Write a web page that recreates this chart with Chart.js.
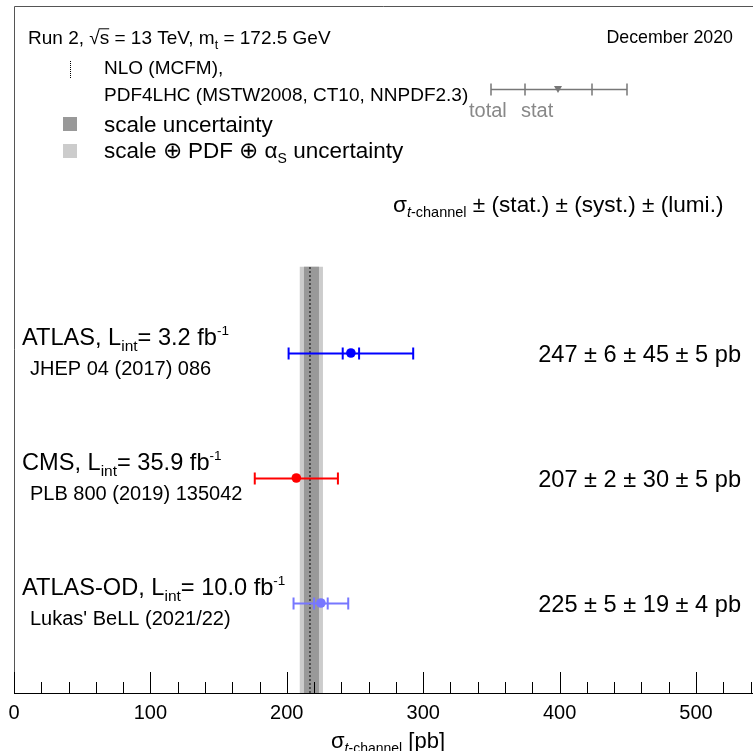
<!DOCTYPE html>
<html>
<head>
<meta charset="utf-8">
<script src="https://cdn.jsdelivr.net/npm/chart.js@4.4.0/dist/chart.umd.min.js"></script>
<style>
body { margin: 0; background: #fff; }
#wrap { position: relative; width: 753px; height: 751px; }
</style>
</head>
<body>
<div id="wrap"><canvas id="myChart"></canvas></div>
<script>
// measurements, top row first
const experiments = ["ATLAS", "CMS", "ATLAS-OD"];
const lumis = ["3.2", "35.9", "10.0"];
const references = ["JHEP 04 (2017) 086", "PLB 800 (2019) 135042", "Lukas' BeLL (2021/22)"];
const xsec = [247, 207, 225];
const statErr = [6, 2, 5];
const systErr = [45, 30, 19];
const lumiErr = [5, 5, 4];
const rowPos = [2.72, 1.72, 0.72];
const pointColors = ["#0000ff", "#ff0000", "#7777ff"];

// NLO prediction (MCFM)
const theoryValue = 217.0;
const scaleBand = [212.6, 223.6];
const totalBand = [209.5, 226.5];
const bandTop = 3.41;

const xTicks = [0, 100, 200, 300, 400, 500];
const xMax = 541.8;
const yMax = 5.496;

const FONT = '"Liberation Sans", Arial, Helvetica, sans-serif';
const MARKER = 4.8;

function totalErr(i) {
  return Math.sqrt(statErr[i] ** 2 + systErr[i] ** 2 + lumiErr[i] ** 2);
}

// draws a row of text pieces (for sub/superscripts)
function rich(ctx, x, y, parts, align) {
  var w = 0;
  parts.forEach(function (p) {
    ctx.font = (p.it ? "italic " : "") + p.s + "px " + FONT;
    w += ctx.measureText(p.t).width;
  });
  if (align == "right") x -= w;
  if (align == "center") x -= w / 2;
  ctx.textBaseline = "alphabetic";
  ctx.textAlign = "left";
  parts.forEach(function (p) {
    ctx.font = (p.it ? "italic " : "") + p.s + "px " + FONT;
    ctx.fillStyle = p.c || "#000";
    ctx.fillText(p.t, x, y + (p.dy || 0));
    var pw = ctx.measureText(p.t).width;
    if (p.over) {
      ctx.strokeStyle = p.c || "#000";
      ctx.lineWidth = 1;
      ctx.beginPath();
      ctx.moveTo(x - 1, y - p.s * 0.8);
      ctx.lineTo(x + pw, y - p.s * 0.8);
      ctx.stroke();
    }
    x += pw;
  });
}

function errorBar(ctx, x, y, lo, hi, sLo, sHi, color, lw) {
  ctx.strokeStyle = color;
  ctx.lineWidth = lw;
  ctx.beginPath();
  ctx.moveTo(lo, y);
  ctx.lineTo(hi, y);
  var caps = [lo, hi];
  // stat ticks hidden under the marker are not drawn
  if (x - sLo > MARKER) caps.push(sLo, sHi);
  caps.forEach(function (px) {
    ctx.moveTo(px, y - 6);
    ctx.lineTo(px, y + 6);
  });
  ctx.stroke();
}

const summaryPlugin = {
  id: "summary",
  beforeDatasetsDraw(chart) {
    const ctx = chart.ctx;
    const xs = chart.scales.x;
    const ys = chart.scales.y;
    const top = ys.getPixelForValue(bandTop);
    const bot = ys.getPixelForValue(0);
    ctx.save();
    ctx.fillStyle = "#cccccc";
    var a = xs.getPixelForValue(totalBand[0]);
    var b = xs.getPixelForValue(totalBand[1]);
    ctx.fillRect(a, top, b - a, bot - top);
    ctx.fillStyle = "#999999";
    a = xs.getPixelForValue(scaleBand[0]);
    b = xs.getPixelForValue(scaleBand[1]);
    ctx.fillRect(a, top, b - a, bot - top);
    ctx.restore();
  },
  beforeDatasetDraw(chart, args) {
    if (args.index != 0) return;
    const ctx = chart.ctx;
    const xs = chart.scales.x;
    const ys = chart.scales.y;
    ctx.save();
    for (let i = 0; i < xsec.length; i++) {
      const t = totalErr(i);
      const y = Math.round(ys.getPixelForValue(rowPos[i])) + 0.5;
      errorBar(
        ctx,
        xs.getPixelForValue(xsec[i]),
        y,
        xs.getPixelForValue(xsec[i] - t),
        xs.getPixelForValue(xsec[i] + t),
        xs.getPixelForValue(xsec[i] - statErr[i]),
        xs.getPixelForValue(xsec[i] + statErr[i]),
        pointColors[i],
        2
      );
    }
    ctx.restore();
  },
  afterDraw(chart) {
    const ctx = chart.ctx;
    const area = chart.chartArea;
    const xs = chart.scales.x;
    const ys = chart.scales.y;
    ctx.save();

    // frame
    ctx.strokeStyle = "#555";
    ctx.lineWidth = 1;
    ctx.beginPath();
    ctx.moveTo(area.left + 0.5, area.bottom);
    ctx.lineTo(area.left + 0.5, area.top + 0.5);
    ctx.lineTo(area.right, area.top + 0.5);
    ctx.stroke();

    // tick marks pointing up into the plot
    ctx.strokeStyle = "#000";
    ctx.beginPath();
    for (let v = 0; v <= xMax; v += 20) {
      const px = Math.round(xs.getPixelForValue(v)) + 0.5;
      const len = v % 100 == 0 ? 21 : 11;
      ctx.moveTo(px, area.bottom);
      ctx.lineTo(px, area.bottom - len);
    }
    ctx.stroke();

    // header
    rich(ctx, 28, 44, [
      { t: "Run 2, ", s: 19 },
      { t: "\u221A", s: 19 },
      { t: "s", s: 19, over: true },
      { t: " = 13 TeV, m", s: 19 },
      { t: "t", s: 12.5, dy: 5 },
      { t: " = 172.5 GeV", s: 19 },
    ]);
    rich(ctx, 733, 43, [{ t: "December 2020", s: 17.8 }], "right");

    // legend
    ctx.strokeStyle = "#000";
    ctx.setLineDash([1, 1]);
    ctx.beginPath();
    ctx.moveTo(70.5, 61);
    ctx.lineTo(70.5, 78);
    ctx.stroke();
    ctx.setLineDash([]);
    rich(ctx, 104, 74, [{ t: "NLO (MCFM),", s: 19 }]);
    rich(ctx, 104, 101, [{ t: "PDF4LHC (MSTW2008, CT10, NNPDF2.3)", s: 19 }]);
    ctx.fillStyle = "#999999";
    ctx.fillRect(63, 117, 14, 14);
    ctx.fillStyle = "#cccccc";
    ctx.fillRect(63, 144, 14, 14);
    rich(ctx, 104, 132, [{ t: "scale uncertainty", s: 22.5 }]);
    rich(ctx, 104, 158, [
      { t: "scale \u2295 PDF \u2295 ", s: 22.5 },
      { t: "\u03B1", s: 22.5 },
      { t: "S", s: 14, dy: 5 },
      { t: " uncertainty", s: 22.5 },
    ]);

    // legend error bar: total / stat
    errorBar(ctx, 558, 89.5, 491, 627, 525, 592, "#777", 1.5);
    ctx.fillStyle = "#777";
    ctx.beginPath();
    ctx.moveTo(554, 86);
    ctx.lineTo(562, 86);
    ctx.lineTo(558, 93);
    ctx.closePath();
    ctx.fill();
    rich(ctx, 469, 117, [{ t: "total", s: 20, c: "#888" }]);
    rich(ctx, 521, 117, [{ t: "stat", s: 20, c: "#888" }]);

    rich(ctx, 393, 212, [
      { t: "\u03C3", s: 22.6 },
      { t: "t", s: 14.5, dy: 5, it: true },
      { t: "-channel", s: 14.5, dy: 5 },
      { t: " \u00B1 (stat.) \u00B1 (syst.) \u00B1 (lumi.)", s: 22.6 },
    ]);

    // measurement labels and values
    for (let i = 0; i < xsec.length; i++) {
      const y = ys.getPixelForValue(rowPos[i]);
      rich(ctx, 22, y - 8, [
        { t: experiments[i] + ", L", s: 23.6 },
        { t: "int", s: 15.5, dy: 6 },
        { t: "= " + lumis[i] + " fb", s: 23.6 },
        { t: "-1", s: 13.5, dy: -10 },
      ]);
      rich(ctx, 30, y + 22, [{ t: references[i], s: 20 }]);
      rich(ctx, 741, y + 9, [
        {
          t: xsec[i] + " \u00B1 " + statErr[i] + " \u00B1 " + systErr[i] + " \u00B1 " + lumiErr[i] + " pb",
          s: 23.6,
        },
      ], "right");
    }

    // axis title
    rich(ctx, 388, 748, [
      { t: "\u03C3", s: 22 },
      { t: "t", s: 14, dy: 5, it: true },
      { t: "-channel", s: 14, dy: 5 },
      { t: " [pb]", s: 22 },
    ], "center");

    ctx.restore();
  },
};

function drawChart() {
  const ctx = document.getElementById("myChart");
  new Chart(ctx, {
    type: "scatter",
    data: {
      datasets: [
        {
          label: "measurements",
          data: xsec.map((v, i) => ({ x: v, y: rowPos[i] })),
          pointBackgroundColor: pointColors,
          pointBorderWidth: 0,
          pointRadius: MARKER,
          order: 0,
        },
        {
          type: "line",
          label: "NLO",
          data: [
            { x: theoryValue, y: 0 },
            { x: theoryValue, y: bandTop },
          ],
          borderColor: "#000",
          borderWidth: 1,
          borderDash: [2, 2],
          pointRadius: 0,
          order: 1,
        },
      ],
    },
    options: {
      responsive: true,
      maintainAspectRatio: false,
      animation: false,
      layout: { autoPadding: false, padding: { left: 14, top: 6, right: 0, bottom: 0 } },
      plugins: { legend: { display: false }, tooltip: { enabled: false } },
      scales: {
        x: {
          type: "linear",
          min: 0,
          max: xMax,
          afterFit: (s) => {
            s.height = 58;
            s.paddingLeft = 0;
            s.paddingRight = 0;
          },
          afterBuildTicks: (s) => {
            s.ticks = xTicks.map((v) => ({ value: v }));
          },
          grid: { display: true, drawOnChartArea: false, drawTicks: false },
          border: { display: true, color: "#000", width: 1 },
          ticks: {
            color: "#000",
            font: { family: FONT, size: 20 },
            padding: 8,
            maxRotation: 0,
            autoSkip: false,
          },
        },
        y: { type: "linear", display: false, min: 0, max: yMax },
      },
    },
    plugins: [summaryPlugin],
  });
}

window.onload = function () {
  drawChart();
};
</script>
</body>
</html>
